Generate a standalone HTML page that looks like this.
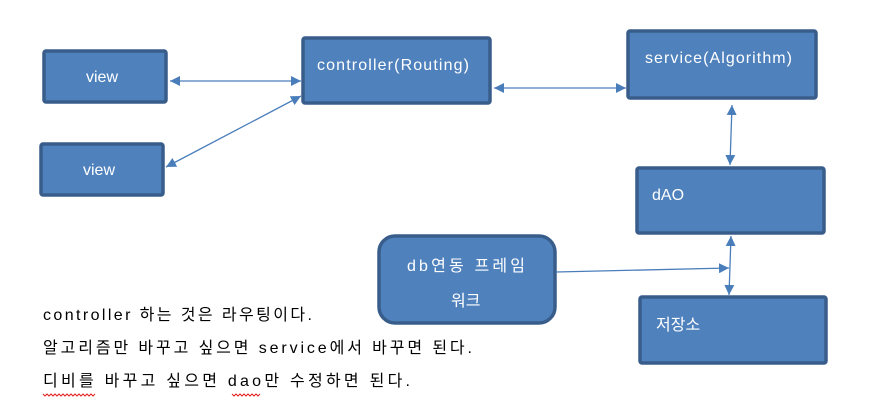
<!DOCTYPE html>
<html><head><meta charset="utf-8"><style>
html,body{margin:0;padding:0;background:#fff;width:883px;height:413px;overflow:hidden}
svg{display:block}
text{font-family:"Liberation Sans","Noto Sans CJK KR",sans-serif}
</style></head><body>
<svg width="883" height="413" viewBox="0 0 883 413" xmlns="http://www.w3.org/2000/svg">
<defs>
<marker id="a" viewBox="0 0 10 10" refX="10" refY="5" markerWidth="10" markerHeight="10" markerUnits="userSpaceOnUse" orient="auto-start-reverse"><path d="M0,0L10,5L0,10z" fill="#4a7ebb"/></marker>
</defs>
<g fill="#4f81bd" stroke="#385d8a" stroke-width="3.5">
<rect x="44" y="51" width="122" height="51" rx="2"/>
<rect x="41" y="144" width="122" height="51" rx="2"/>
<rect x="303" y="38" width="187" height="65" rx="2"/>
<rect x="628" y="31" width="188" height="67" rx="2"/>
<rect x="637" y="168" width="187" height="65" rx="2"/>
<rect x="379" y="236" width="176" height="87" rx="16"/>
<rect x="640" y="297" width="186" height="66" rx="2"/>
</g>
<g stroke="#4a7ebb" stroke-width="1.3" fill="none" marker-start="url(#a)" marker-end="url(#a)">
<line x1="170" y1="81" x2="301" y2="81"/>
<line x1="166" y1="167" x2="301" y2="96"/>
<line x1="494" y1="88" x2="626" y2="88"/>
<line x1="732" y1="105" x2="730" y2="165"/>
<line x1="731" y1="236" x2="729" y2="295"/>
</g>
<line x1="556" y1="272" x2="729" y2="268" stroke="#4a7ebb" stroke-width="1.3" marker-end="url(#a)"/>
<g fill="#fff" font-size="16">
<text x="86" y="82">view</text>
<text x="83" y="175">view</text>
<text x="317" y="70" textLength="152">controller(Routing)</text>
<text x="645" y="63" textLength="147">service(Algorithm)</text>
<text x="652" y="200">dAO</text>
<text x="407" y="271" textLength="118">db연동 프레임</text>
<text x="451" y="306">워크</text>
<text x="656" y="330">저장소</text>
</g>
<g fill="#000" font-size="16">
<text x="43" y="320" textLength="269">controller 하는 것은 라우팅이다.</text>
<text x="43" y="353" textLength="429">알고리즘만 바꾸고 싶으면 service에서 바꾸면 된다.</text>
<text x="43" y="386" textLength="367">디비를 바꾸고 싶으면 dao만 수정하면 된다.</text>
</g>
<g stroke="#e02020" stroke-width="1" fill="none">
<path d="M43,394 l2,2 l2,-2 l2,2 l2,-2 l2,2 l2,-2 l2,2 l2,-2 l2,2 l2,-2 l2,2 l2,-2 l2,2 l2,-2 l2,2 l2,-2 l2,2 l2,-2 l2,2 l2,-2 l2,2 l2,-2 l2,2 l2,-2 l2,2 l2,-2"/>
<path d="M232,394 l2,2 l2,-2 l2,2 l2,-2 l2,2 l2,-2 l2,2 l2,-2 l2,2 l2,-2 l2,2 l2,-2 l2,2 l2,-2"/>
</g>
</svg>
</body></html>
